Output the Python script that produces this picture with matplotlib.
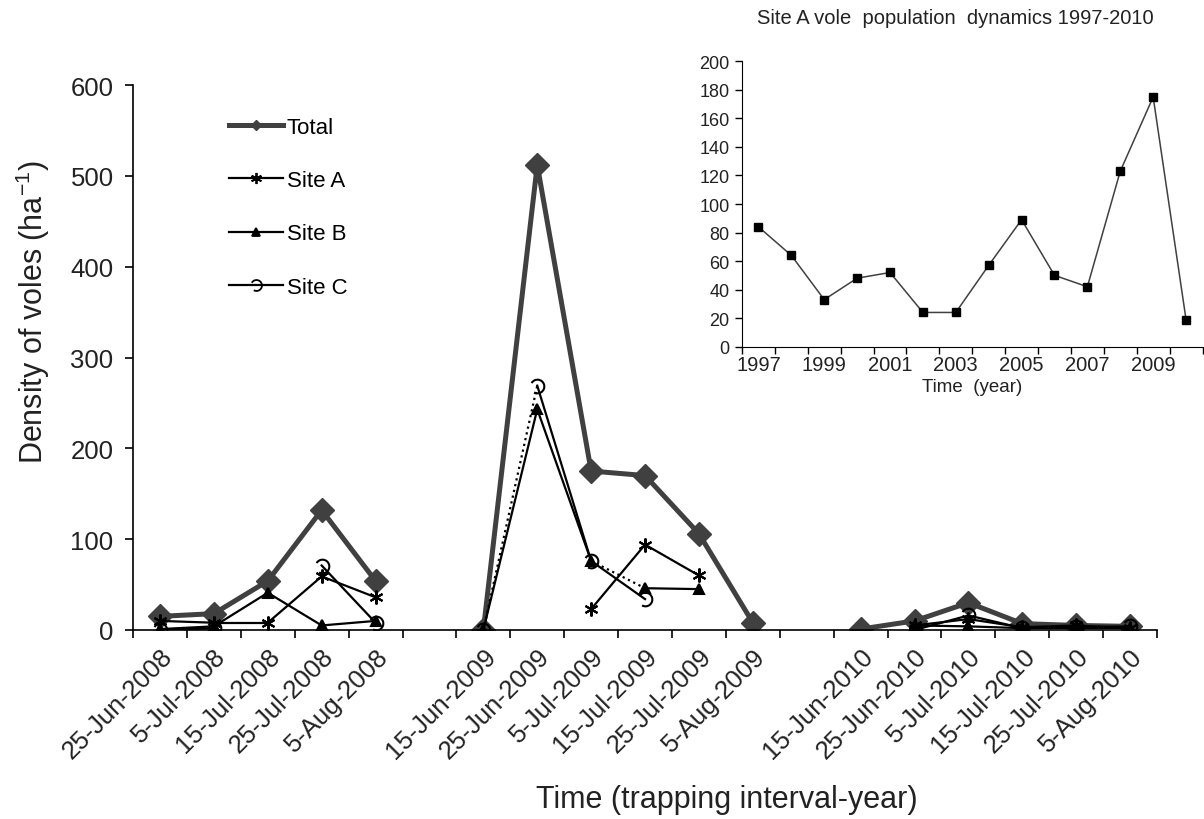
import numpy as np
import matplotlib
matplotlib.use("Agg")
import matplotlib.pyplot as plt
from matplotlib.path import Path
from matplotlib.lines import Line2D

plt.rcParams['font.family'] = ['Liberation Sans', 'DejaVu Sans']
plt.rcParams['mathtext.fontset'] = 'custom'
plt.rcParams['mathtext.rm'] = 'Liberation Sans'

nan = np.nan
dates = ['25-Jun-2008', '5-Jul-2008', '15-Jul-2008', '25-Jul-2008', '5-Aug-2008', '',
         '15-Jun-2009', '25-Jun-2009', '5-Jul-2009', '15-Jul-2009', '25-Jul-2009', '5-Aug-2009', '',
         '15-Jun-2010', '25-Jun-2010', '5-Jul-2010', '15-Jul-2010', '25-Jul-2010', '5-Aug-2010']
total = [15, 18, 54, 132, 54, nan, 0, 512, 175, 170, 106, 8, nan, 1, 10, 30, 7, 5, 4]
site_a = [10, 8, 8, 59, 36, nan, nan, nan, 23, 94, 60, nan, nan, nan, 5, 12, 3, 5, 2]
site_b = [1, 4, 41, 5, 10, nan, 0, 243, 76, 46, 45, nan, nan, nan, 5, 4, 2, 2, 2]
site_c = [0, 2, nan, 71, 8, nan, 0, 269, 76, 34, nan, nan, nan, nan, 0, 16, 2, 3, 4]
# segments drawn dotted (start index of segment)
dotted_b = [8]
dotted_c = [6]

years = list(range(1997, 2011))
site_a_years = [84, 64, 33, 48, 52, 24, 24, 57, 89, 50, 42, 123, 175, 19]

hook = Path.arc(-120, 150)
star6 = (6, 2, 0)

fig = plt.figure(figsize=(12.04, 8.2), dpi=100)
ax = fig.add_axes([0.1105, 0.2305, 0.8505, 0.6646])
x = np.arange(len(dates))


def draw_site(vals, marker, ms, dotted, label, mfc='black'):
    vals = np.array(vals, dtype=float)
    for i in range(len(vals) - 1):
        if np.isfinite(vals[i]) and np.isfinite(vals[i + 1]):
            ls = ':' if i in dotted else '-'
            ax.plot(x[i:i + 2], vals[i:i + 2], color='black', lw=1.6, ls=ls, zorder=3)
    ax.plot(x, vals, ls='none', marker=marker, ms=ms, color='black',
            mfc=mfc, mec='black', mew=1.5, zorder=4)
    return Line2D([], [], color='black', lw=1.6, marker=marker, ms=ms * 0.8,
                  mfc=mfc, mec='black', mew=1.3, label=label)


ax.plot(x, total, color='#404040', lw=3.6, marker='D', ms=12,
        mfc='#404040', mec='#404040', zorder=2)
h_a = draw_site(site_a, star6, 10, [], 'Site A')
h_b = draw_site(site_b, '^', 7, dotted_b, 'Site B')
h_c = draw_site(site_c, hook, 10, dotted_c, 'Site C', mfc='none')

ax.set_xlim(-0.5, len(dates) - 0.5)
ax.set_ylim(0, 600)
ax.set_yticks(range(0, 601, 100))
ax.set_xticks(x)
ax.set_xticklabels(dates, rotation=45, ha='right', va='top', rotation_mode='anchor')
ax.set_xticks(np.arange(-0.5, len(dates)), minor=True)
ax.tick_params(axis='x', which='major', length=0, pad=10, labelsize=18.5, labelcolor='#222222')
ax.tick_params(axis='x', which='minor', length=6, width=1.2, direction='out')
ax.tick_params(axis='y', length=6, width=1.2, direction='out', labelsize=18.5,
               labelcolor='#222222', pad=8)
for s in ['top', 'right']:
    ax.spines[s].set_visible(False)
for s in ['left', 'bottom']:
    ax.spines[s].set_linewidth(1.2)

fig.text(33 / 1204, 1 - 312 / 820, r'Density of voles (ha$\mathregular{^{-1}}$)', rotation=90,
         ha='center', va='center', fontsize=22, color='#222222')
fig.text(727 / 1204, 1 - 800 / 820, 'Time (trapping interval-year)',
         ha='center', va='center', fontsize=22, color='#222222')

h_tot_leg = Line2D([], [], color='#404040', lw=3.6, marker='D', ms=5, label='Total')
ax.legend(handles=[h_tot_leg, h_a, h_b, h_c], loc='upper left',
          bbox_to_anchor=(229 / 1204, 1 - 118 / 820), bbox_transform=fig.transFigure,
          frameon=False, fontsize=16, labelspacing=1.45, handlelength=2.45,
          handletextpad=0.15, borderpad=0, borderaxespad=0)

# inset
ins = fig.add_axes([742 / 1204, 1 - 347.7 / 820, 460.5 / 1204, 285.4 / 820])
xi = np.arange(len(years))
ins.plot(xi, site_a_years, color='#404040', lw=1.1, marker='s', ms=6,
         mfc='black', mec='black')
ins.set_xlim(-0.5, len(years) - 0.5)
ins.set_ylim(0, 200)
ins.set_yticks(range(0, 201, 20))
ins.set_xticks(xi[::2])
ins.set_xticklabels([str(y) for y in years[::2]])
ins.set_xticks(np.arange(-0.5, len(years)), minor=True)
ins.tick_params(axis='x', which='major', length=0, pad=6, labelsize=14.5, labelcolor='#222222')
ins.tick_params(axis='x', which='minor', length=5, width=1.0, direction='out')
ins.tick_params(axis='y', length=5, width=1.0, direction='out', labelsize=13,
                labelcolor='#222222', pad=4)
for s in ['top', 'right']:
    ins.spines[s].set_visible(False)
ins.set_xlabel('Time  (year)', fontsize=13.5, color='#222222', labelpad=3)
fig.text(955 / 1204, 1 - 18 / 820, 'Site A vole  population  dynamics 1997-2010',
         ha='center', va='center', fontsize=14.5, color='#222222')

fig.savefig('out.png', dpi=100)
